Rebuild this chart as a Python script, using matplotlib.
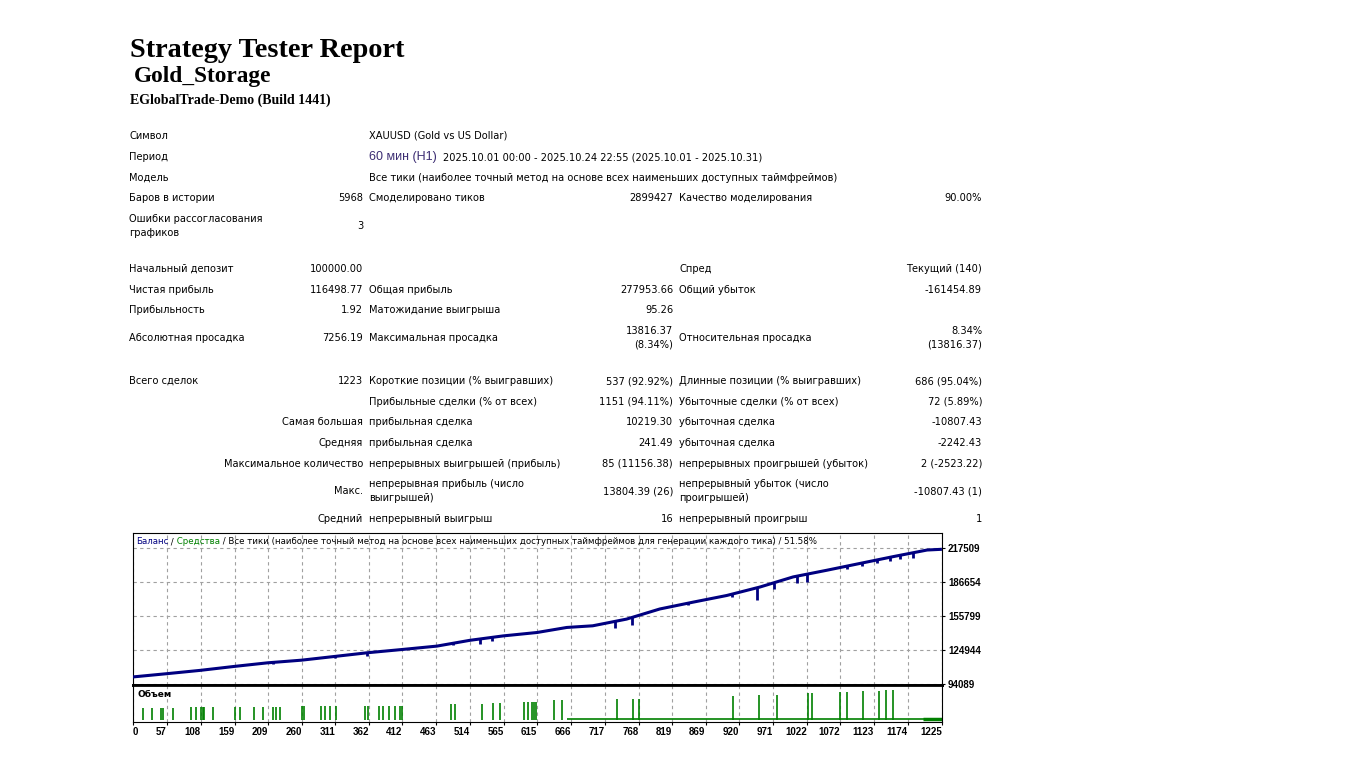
import numpy as np
import matplotlib
matplotlib.use('Agg')
import matplotlib.pyplot as plt

W, H = 1366, 770

# header
title = 'Strategy Tester Report'
expert = 'Gold_Storage'
server = 'EGlobalTrade-Demo (Build 1441)'

symbol = 'XAUUSD (Gold vs US Dollar)'
period_tf = '60 мин (H1)'
period_range = '2025.10.01 00:00 - 2025.10.24 22:55 (2025.10.01 - 2025.10.31)'
model = 'Все тики (наиболее точный метод на основе всех наименьших доступных таймфреймов)'

# label1, value1, label2, value2, label3, value3
stat_rows = [
    ('Баров в истории', '5968', 'Смоделировано тиков', '2899427', 'Качество моделирования', '90.00%'),
    ('Ошибки рассогласования\nграфиков', '3', '', '', '', ''),
    ('Начальный депозит', '100000.00', '', '', 'Спред', 'Текущий (140)'),
    ('Чистая прибыль', '116498.77', 'Общая прибыль', '277953.66', 'Общий убыток', '-161454.89'),
    ('Прибыльность', '1.92', 'Матожидание выигрыша', '95.26', '', ''),
    ('Абсолютная просадка', '7256.19', 'Максимальная просадка', '13816.37\n(8.34%)',
     'Относительная просадка', '8.34%\n(13816.37)'),
    ('Всего сделок', '1223', 'Короткие позиции (% выигравших)', '537 (92.92%)',
     'Длинные позиции (% выигравших)', '686 (95.04%)'),
    ('', '', 'Прибыльные сделки (% от всех)', '1151 (94.11%)', 'Убыточные сделки (% от всех)', '72 (5.89%)'),
]
stat_y = [198, 226, 269, 290, 310, 338, 381, 402]

trade_rows = [
    ('Самая большая', 'прибыльная сделка', '10219.30', 'убыточная сделка', '-10807.43'),
    ('Средняя', 'прибыльная сделка', '241.49', 'убыточная сделка', '-2242.43'),
    ('Максимальное количество', 'непрерывных выигрышей (прибыль)', '85 (11156.38)',
     'непрерывных проигрышей (убыток)', '2 (-2523.22)'),
    ('Макс.', 'непрерывная прибыль (число\nвыигрышей)', '13804.39 (26)',
     'непрерывный убыток (число\nпроигрышей)', '-10807.43 (1)'),
    ('Средний', 'непрерывный выигрыш', '16', 'непрерывный проигрыш', '1'),
]
trade_y = [422, 443, 464, 491, 519]

# balance curve (trade number, balance)
trade_idx = [0, 57, 107, 160, 209, 260, 313, 360, 413, 464, 514, 564, 615, 660, 699,
             750, 800, 850, 901, 951, 1001, 1052, 1102, 1152, 1203, 1223]
balance = [100000, 103300, 106300, 110000, 113200, 115600, 119200, 122400, 125400, 128400,
           133700, 137700, 140800, 145400, 146900, 153000, 162200, 168400, 174500, 182200,
           191400, 197500, 203700, 209900, 215900, 216499]

# equity dips
dip_idx = [217, 310, 358, 488, 529, 547, 733, 758, 843, 909, 947, 972, 1007, 1022,
           1082, 1105, 1127, 1147, 1162, 1182]
dip_depth = [1800, 1800, 3000, 1800, 4600, 3000, 6100, 7000, 1800, 2700, 11000, 6100, 6100, 7400,
             2700, 2700, 2700, 3600, 3600, 4600]

# volume
vol_idx = [21, 35, 48, 51, 66, 94, 101, 108, 111, 113, 127, 160, 167, 189, 202, 217, 222, 228,
           260, 264, 290, 295, 303, 312, 355, 360, 377, 383, 392, 401, 409, 411, 486, 491, 532,
           549, 559, 596, 602, 607, 611, 613, 640, 652, 736, 760, 769, 911, 949, 976, 1024, 1030,
           1072, 1083, 1106, 1130, 1141, 1151]
vol_lots = [0.12, 0.12, 0.12, 0.12, 0.12, 0.125, 0.125, 0.125, 0.125, 0.125, 0.125, 0.125, 0.125,
            0.125, 0.125, 0.125, 0.125, 0.125, 0.13, 0.13, 0.13, 0.13, 0.13, 0.13, 0.13, 0.13,
            0.135, 0.135, 0.135, 0.135, 0.135, 0.135, 0.15, 0.15, 0.155, 0.16, 0.16, 0.17, 0.17,
            0.17, 0.17, 0.17, 0.19, 0.19, 0.205, 0.205, 0.205, 0.235, 0.245, 0.245, 0.26, 0.26,
            0.27, 0.27, 0.28, 0.28, 0.29, 0.29]
small_vol = 0.008
small_vol_from = 660
small_vol_to = 1225
end_vol_from = 1197

x_labels = ['0', '57', '108', '159', '209', '260', '311', '362', '412', '463', '514', '565', '615',
            '666', '717', '768', '819', '869', '920', '971', '1022', '1072', '1123', '1174', '1225']
y_levels = [94089, 124944, 155799, 186654, 217509]

legend_parts = [('Баланс', '#000080'), (' /', 'black'), (' Средства', '#008000'),
                (' / Все тики (наиболее точный метод на основе всех наименьших доступных '
                 'таймфреймов для генерации каждого тика) / 51.58%', 'black')]

fig = plt.figure(figsize=(W / 100, H / 100), dpi=100)
fig.patch.set_facecolor('white')


def put(x, y, s, ha='left', va='center', **kw):
    return fig.text(x / W, 1 - y / H, s, ha=ha, va=va, **kw)


def box(l, t, r, b):
    return [l / W, 1 - b / H, (r - l) / W, (b - t) / H]


put(130, 57, title, va='baseline', family='Liberation Serif', weight='bold', size=20.3)
put(134, 82, expert, va='baseline', family='Liberation Serif', weight='heavy', size=16.8)
put(130, 104, server, va='baseline', family='Liberation Serif', weight='bold', size=10)

tf = dict(family='DejaVu Sans', size=7.1, linespacing=1.4)
C1L, C1R, C2L, C2R, C3L, C3R = 129, 363, 369, 673, 679, 982

put(C1L, 136, 'Символ', **tf)
put(C2L, 136, symbol, **tf)
put(C1L, 157, 'Период', **tf)
put(C2L, 157, period_tf, family='Liberation Sans', size=9, color='#3b2c72')
put(443, 157, period_range, **tf)
put(C1L, 178, 'Модель', **tf)
put(C2L, 178, model, **tf)

for y, (l1, v1, l2, v2, l3, v3) in zip(stat_y, stat_rows):
    put(C1L, y, l1, **tf)
    put(C1R, y, v1, ha='right', **tf)
    put(C2L, y, l2, **tf)
    put(C2R, y, v2, ha='right', **tf)
    put(C3L, y, l3, **tf)
    put(C3R, y, v3, ha='right', **tf)

for y, (l1, l2, v2, l3, v3) in zip(trade_y, trade_rows):
    put(C1R, y, l1, ha='right', **tf)
    put(C2L, y, l2, **tf)
    put(C2R, y, v2, ha='right', **tf)
    put(C3L, y, l3, **tf)
    put(C3R, y, v3, ha='right', **tf)

# chart
x_min, x_max = 6, 1225
x_ticks = [x_min] + [int(s) for s in x_labels[1:]]
grid_kw = dict(color='#a0a0a0', linestyle=(0, (3, 3)), linewidth=0.8)

ax = fig.add_axes(box(133, 532.5, 941.7, 684.5))
ax.set_axisbelow(True)
ax.plot(trade_idx, balance, color='#000080', lw=2.2, solid_joinstyle='round', zorder=3)
base = np.interp(dip_idx, trade_idx, balance)
ax.vlines(dip_idx, base - np.array(dip_depth), base, color='#000080', lw=2, zorder=3)
ax.set_xlim(x_min, x_max)
ax.set_ylim(93450, 231850)
ax.set_xticks(x_ticks)
ax.set_yticks(y_levels)
ax.set_yticklabels([str(v) for v in y_levels], family='Liberation Sans', weight='bold', size=7)
ax.grid(True, **grid_kw)
ax.yaxis.tick_right()
ax.tick_params(axis='x', length=0, labelbottom=False)
ax.tick_params(axis='y', direction='out', length=2, width=0.8, pad=2.5)
for s in ax.spines.values():
    s.set_linewidth(0.8)
ax.spines['bottom'].set_linewidth(2)

ax2 = fig.add_axes(box(133, 684.5, 941.7, 721.7))
ax2.set_axisbelow(True)
ax2.vlines(vol_idx, 0, vol_lots, color='#008000', lw=1.2)
ax2.hlines(small_vol, small_vol_from, small_vol_to, color='#008000', lw=1.2)
ax2.hlines(small_vol, end_vol_from, small_vol_to, color='#008000', lw=2.5)
ax2.set_xlim(x_min, x_max)
ax2.set_ylim(-0.02, 0.347)
ax2.set_yticks([])
ax2.set_xticks(x_ticks)
ax2.set_xticklabels(x_labels, family='Liberation Sans', weight='bold', size=7)
for i, t in enumerate(ax2.get_xticklabels()):
    t.set_ha('left' if i == 0 else 'right')
ax2.grid(True, axis='x', **grid_kw)
ax2.tick_params(axis='x', direction='out', length=2.5, width=0.8, pad=1)
for s in ax2.spines.values():
    s.set_linewidth(0.8)
ax2.spines['top'].set_linewidth(2)
ax2.text(0.005, 0.74, 'Объем', transform=ax2.transAxes, size=6.5, weight='bold', va='center')

renderer = fig.canvas.get_renderer()
x = 136
for s, c in legend_parts:
    t = put(x, 542, s, color=c, family='DejaVu Sans', size=6.25)
    x += t.get_window_extent(renderer).width

fig.savefig('out.png', dpi=100, facecolor='white')
